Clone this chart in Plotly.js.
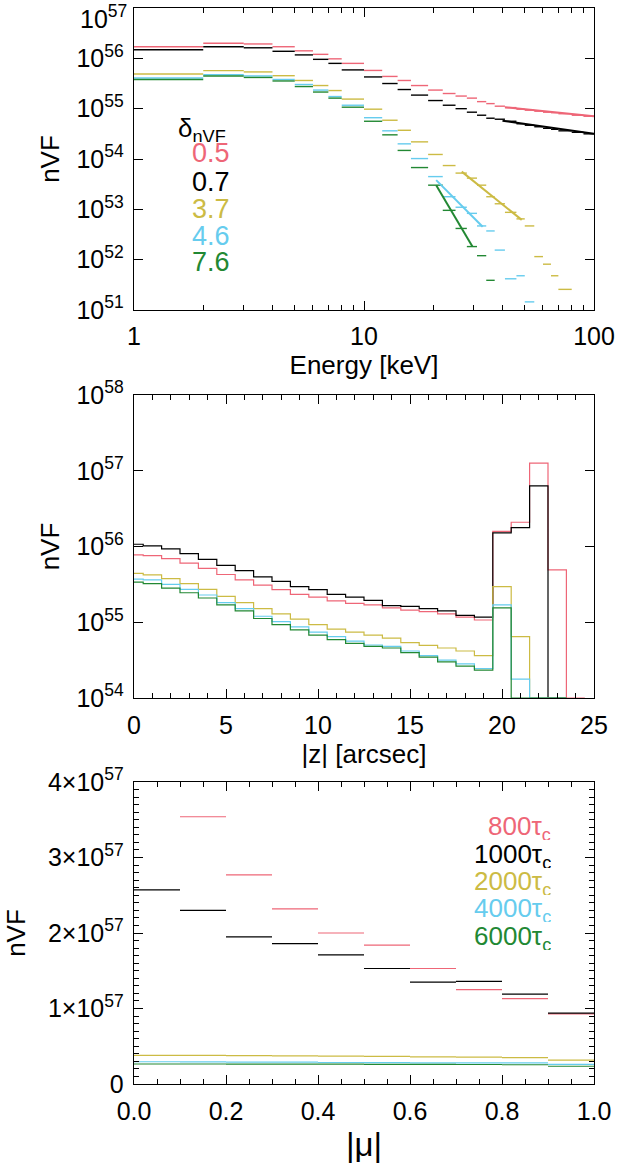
<!DOCTYPE html>
<html><head><meta charset="utf-8">
<script src="https://cdn.plot.ly/plotly-3.0.1.min.js"></script>
<style>body{margin:0;background:#fff}#plot{width:618px;height:1172px}</style>
</head><body><div id="plot"></div>
<script>
// ---------------- DATA ----------------
// Panel 1: nVF spectra vs energy (bin edges in keV, values per bin)
const energyEdges = [1,2,3,4,5,6,7,8,10,12,14,16,19,22,25,28,31,34,37,41,46,50,55,60,65,70,80,90,100];
const specRed    = [1.70e56,2.00e56,1.93e56,1.70e56,1.41e56,1.20e56,9.77e55,7.94e55,5.75e55,4.37e55,3.63e55,2.88e55,2.34e55,2.00e55,1.78e55,1.62e55,1.38e55,1.26e55,1.12e55,1.05e55,9.77e54,9.33e54,8.91e54,8.51e54,8.32e54,7.94e54,7.41e54,7.08e54];
const specBlack  = [1.48e56,1.70e56,1.62e56,1.38e56,1.17e56,9.55e55,7.94e55,5.89e55,4.27e55,3.16e55,2.40e55,1.86e55,1.45e55,1.17e55,1.00e55,8.51e54,7.41e54,6.46e54,6.17e54,5.62e54,5.01e54,4.68e54,4.37e54,4.07e54,3.89e54,3.63e54,3.39e54,3.16e54];
const specYellow = [4.90e55,5.69e55,5.37e55,4.52e55,3.63e55,2.88e55,2.29e55,1.55e55,9.77e54,5.89e54,3.72e54,2.19e54,1.23e54,7.41e53,5.25e53,4.17e53,3.02e53,1.78e53,1.29e53,8.71e52,6.46e52,4.68e52,1.15e52,8.13e51,4.79e51,2.57e51,null,null];
const specCyan   = [4.07e55,4.73e55,4.47e55,3.80e55,3.02e55,2.34e55,1.74e55,1.17e55,6.61e54,3.63e54,2.00e54,1.02e54,4.47e53,1.78e53,1.10e53,8.32e52,4.68e52,3.72e52,1.55e52,4.17e51,4.79e51,1.45e51,null,null,null,null,null,null];
const specGreen  = [3.80e55,4.47e55,4.17e55,3.55e55,2.75e55,2.14e55,1.62e55,1.07e55,5.62e54,3.02e54,1.48e54,6.76e53,3.02e53,9.55e52,4.17e52,1.82e52,1.20e52,3.89e51,null,null,null,null,null,null,null,null,null,null];
// power-law fits (end points, keV / nVF)
const fitRedE = [41,100],     fitRedV = [1.07e55,7.08e54];
const fitBlackE = [40,100],   fitBlackV = [5.75e54,3.16e54];
const fitYellowE = [26.6,48.5], fitYellowV = [5.62e53,6.17e52];
const fitCyanE = [20.6,32.8], fitCyanV = [3.80e53,4.52e52];
const fitGreenE = [20.6,29.6],fitGreenV = [3.02e53,1.82e52];
const deltaLabels = ['0.5','0.7','3.7','4.6','7.6'];

// Panel 2: nVF vs |z| (bin centres in arcsec)
const zCentres = [0,1,2,3,4,5,6,7,8,9,10,11,12,13,14,15,16,17,18,19,20,21,22,23,24];
const zRed    = [7.76e55,7.59e55,6.92e55,6.03e55,5.13e55,4.27e55,3.63e55,3.09e55,2.69e55,2.34e55,2.14e55,1.91e55,1.78e55,1.70e55,1.55e55,1.45e55,1.38e55,1.29e55,1.17e55,1.07e55,1.58e56,2.09e56,1.26e57,4.90e55,0];
const zBlack  = [1.07e56,1.02e56,9.33e55,8.04e55,6.76e55,5.62e55,4.79e55,3.98e55,3.47e55,2.95e55,2.69e55,2.34e55,2.14e55,1.95e55,1.66e55,1.62e55,1.51e55,1.41e55,1.23e55,1.17e55,1.51e56,1.78e56,6.31e56,0];
const zYellow = [4.43e55,4.21e55,3.76e55,3.24e55,2.72e55,2.19e55,1.82e55,1.51e55,1.29e55,1.10e55,9.33e54,8.13e54,7.41e54,6.76e54,6.17e54,5.37e54,4.95e54,4.57e54,4.17e54,3.63e54,2.95e55,6.46e54,0,0];
const zCyan   = [3.72e55,3.63e55,3.16e55,2.72e55,2.29e55,1.82e55,1.51e55,1.20e55,1.02e55,8.71e54,7.41e54,6.46e54,5.62e54,5.01e54,4.79e54,4.17e54,3.63e54,3.16e54,2.82e54,2.45e54,1.70e55,1.78e54,0,0];
const zGreen  = [3.39e55,3.24e55,2.82e55,2.45e55,2.09e55,1.70e55,1.41e55,1.12e55,9.33e54,7.94e54,6.76e54,5.89e54,5.25e54,4.79e54,4.57e54,3.98e54,3.47e54,2.99e54,2.63e54,2.34e54,1.55e55,0,0,0];

// Panel 3: nVF vs |mu| (bin edges)
const muEdges = [0,0.1,0.2,0.3,0.4,0.5,0.6,0.7,0.8,0.9,1.0];
const muRed    = [null,3.54e57,2.77e57,2.32e57,2.00e57,1.84e57,1.53e57,1.25e57,1.13e57,0.93e57];
const muBlack  = [2.57e57,2.30e57,1.95e57,1.86e57,1.71e57,1.53e57,1.35e57,1.36e57,1.19e57,0.94e57];
const muYellow = [0.380e57,0.380e57,0.375e57,0.372e57,0.370e57,0.365e57,0.360e57,0.355e57,0.350e57,0.315e57];
const muCyan   = [0.295e57,0.293e57,0.290e57,0.290e57,0.285e57,0.283e57,0.280e57,0.280e57,0.280e57,0.260e57];
const muGreen  = [0.265e57,0.265e57,0.263e57,0.262e57,0.262e57,0.260e57,0.260e57,0.258e57,0.255e57,0.235e57];
const timeLabels = ['800','1000','2000','4000','6000'];

// Tick labels
const energyTickVals = [1,10,100], energyTickText = ['1','10','100'];
const energyMinor = [2,3,4,5,6,7,8,9,20,30,40,50,60,70,80,90];
const spec_yTickVals = [1e51,1e52,1e53,1e54,1e55,1e56,1e57];
const spec_yTickText = ['10<sup>51</sup>','10<sup>52</sup>','10<sup>53</sup>','10<sup>54</sup>','10<sup>55</sup>','10<sup>56</sup>',''];
const spec_topLabel = '10<sup>57</sup>';   // drawn as an annotation so it stays inside the page
const z_yTickVals = [1e54,1e55,1e56,1e57,1e58];
const z_yTickText = ['10<sup>54</sup>','10<sup>55</sup>','10<sup>56</sup>','10<sup>57</sup>','10<sup>58</sup>'];
const zTickVals = [0,5,10,15,20,25];
const mu_yTickVals = [0,1e57,2e57,3e57,4e57];
const mu_yTickText = ['0','1×10<sup>57</sup>','2×10<sup>57</sup>','3×10<sup>57</sup>','4×10<sup>57</sup>'];

// ---------------- STYLE ----------------
const COLORS = ['#EE6677','#000000','#CCBB44','#66CCEE','#228833'];
const FONT = 'Liberation Sans, Arial, sans-serif';
const W = 618, H = 1172, M = {l:134, r:24, t:8, b:88};
const PH = H - M.t - M.b;
const EPS = 1e-6;
function dom(topPx, botPx){ return [(H - M.b - botPx)/PH, (H - M.b - topPx)/PH]; }
function px(ypx){ return (H - M.b - ypx)/PH; }
function pxx(xpx){ return (xpx - M.l)/(W - M.l - M.r); }

function segTrace(edges, vals, color, xa, ya, w){
  const x=[], y=[];
  vals.forEach((v,i)=>{ if(v===null) return; x.push(edges[i],edges[i+1],null); y.push(v,v,null); });
  return {x, y, xaxis:xa, yaxis:ya, mode:'lines', type:'scatter', line:{color, width:w||1.3}, hoverinfo:'skip', showlegend:false};
}
function stepTrace(centres, vals, color, floorV){
  const x=[], y=[];
  vals.forEach((v,i)=>{ x.push(centres[i]-0.5); y.push(v>0?v:floorV); });
  x.push(centres[vals.length-1]+0.5); y.push(vals[vals.length-1]>0?vals[vals.length-1]:floorV);
  return {x, y, xaxis:'x2', yaxis:'y2', mode:'lines', type:'scatter', line:{color, width:1.2, shape:'hv'}, hoverinfo:'skip', showlegend:false};
}
function lineTrace(xs, ys, color){
  return {x:xs, y:ys, xaxis:'x', yaxis:'y', mode:'lines', type:'scatter', line:{color, width:2}, hoverinfo:'skip', showlegend:false};
}

const traces = [];
const spec = [specRed, specBlack, specYellow, specCyan, specGreen];
spec.forEach((s,i)=>traces.push(segTrace(energyEdges, s, COLORS[i], 'x', 'y', 1.4)));
[[fitRedE,fitRedV],[fitBlackE,fitBlackV],[fitYellowE,fitYellowV],[fitCyanE,fitCyanV],[fitGreenE,fitGreenV]]
  .forEach((f,i)=>traces.push(lineTrace(f[0], f[1], COLORS[i])));
[zRed, zBlack, zYellow, zCyan, zGreen].forEach((s,i)=>traces.push(stepTrace(zCentres, s, COLORS[i], 1e54)));
[muRed, muBlack, muYellow, muCyan, muGreen].forEach((s,i)=>traces.push(segTrace(muEdges, s, COLORS[i], 'x3', 'y3', 1.2)));

const tickfont = {family:FONT, size:25, color:'#000'};
const titlefont = {family:FONT, size:26, color:'#000'};
const base = {showline:true, linecolor:'#000', linewidth:1.3, mirror:'allticks', ticks:'inside', ticklen:9,
  tickwidth:1, tickcolor:'#000', showgrid:false, zeroline:false, tickfont, fixedrange:true, ticklabeloverflow:'allow'};

const layout = {
  width:W, height:H, margin:M, paper_bgcolor:'#fff', plot_bgcolor:'#fff', showlegend:false,
  font:{family:FONT, color:'#000'},
  xaxis: Object.assign({}, base, {type:'log', range:[0-EPS,2+EPS], domain:[0,1], anchor:'y', tickmode:'array',
     tickvals:energyTickVals, ticktext:energyTickText, ticklabelstandoff:4,
     minor:{tickmode:'array', tickvals:energyMinor, ticks:'inside', ticklen:5, tickcolor:'#000', tickwidth:1},
     title:{text:'Energy [keV]', font:titlefont, standoff:6}}),
  yaxis: Object.assign({}, base, {type:'log', range:[51-EPS,57+EPS], domain:dom(8,310), anchor:'x', tickmode:'array',
     tickvals:spec_yTickVals, ticktext:spec_yTickText, ticklabelstandoff:4,
     title:{text:'nVF', font:titlefont, standoff:9}}),
  xaxis2: Object.assign({}, base, {range:[0,25], domain:[0,1], anchor:'y2', tickmode:'array', tickvals:zTickVals,
     ticklabelstandoff:5, minor:{dtick:1, ticks:'inside', ticklen:5, tickcolor:'#000', tickwidth:1},
     title:{text:'|z| [arcsec]', font:titlefont, standoff:6}}),
  yaxis2: Object.assign({}, base, {type:'log', range:[54-EPS,58+EPS], domain:dom(395,698), anchor:'x2', tickmode:'array',
     tickvals:z_yTickVals, ticktext:z_yTickText, ticklabelstandoff:4,
     title:{text:'nVF', font:titlefont, standoff:9}}),
  xaxis3: Object.assign({}, base, {range:[0,1], domain:[0,1], anchor:'y3', dtick:0.2, tick0:0, tickformat:'.1f',
     ticklabelstandoff:5, minor:{dtick:0.05, ticks:'inside', ticklen:5, tickcolor:'#000', tickwidth:1},
     title:{text:'|μ|', font:{family:FONT, size:33, color:'#000'}, standoff:8}}),
  yaxis3: Object.assign({}, base, {range:[0,4e57], domain:dom(782,1084), anchor:'x3', tickmode:'array',
     tickvals:mu_yTickVals, ticktext:mu_yTickText, ticklabelstandoff:4,
     minor:{dtick:1e56, ticks:'inside', ticklen:5, tickcolor:'#000', tickwidth:1},
     title:{text:'nVF', font:titlefont, standoff:14}}),
  annotations: []
};

// top tick label of panel 1 (kept inside the page as in the reference)
layout.annotations.push({xref:'paper', yref:'paper', x:pxx(129), y:px(-1), xanchor:'right', yanchor:'top',
  text:spec_topLabel, showarrow:false, font:tickfont});
// legend of panel 1
layout.annotations.push({xref:'paper', yref:'paper', x:pxx(176), y:px(130), xanchor:'left', yanchor:'middle',
  text:'δ<sub>nVF</sub>', showarrow:false, height:24, font:{family:FONT, size:26, color:'#000'}});
const legY1 = [153,182,209,236,262];
deltaLabels.forEach((t,i)=>layout.annotations.push({xref:'paper', yref:'paper', x:pxx(190), y:px(legY1[i]),
  xanchor:'left', yanchor:'middle', text:t, showarrow:false, height:22, font:{family:FONT, size:27, color:COLORS[i]}}));
// legend of panel 3
const legY3 = [828,856,883,910,938];
timeLabels.forEach((t,i)=>layout.annotations.push({xref:'paper', yref:'paper', x:pxx(553), y:px(legY3[i]),
  xanchor:'right', yanchor:'middle', text:t+'τ<sub>c</sub>', showarrow:false, height:24, font:{family:FONT, size:26, color:COLORS[i]}}));

Plotly.newPlot('plot', traces, layout, {staticPlot:true, displayModeBar:false});
</script></body></html>
